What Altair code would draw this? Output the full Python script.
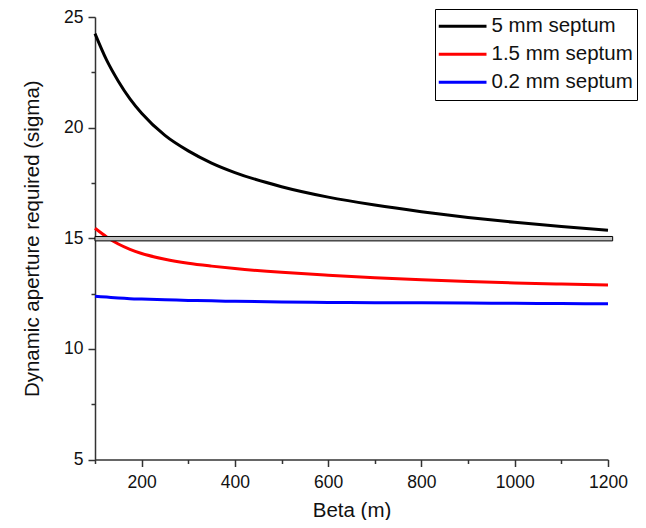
import altair as alt
import pandas as pd

# ---- data ----
beta = [100, 125, 150, 175, 200, 250, 300, 350, 400, 500, 600, 700, 800, 900, 1000, 1100, 1200]
da_5mm = [24.25, 23.05, 22.1, 21.3, 20.65, 19.65, 18.95, 18.4, 17.97, 17.33, 16.86, 16.5, 16.2, 15.94, 15.72, 15.53, 15.36]
da_1p5mm = [15.45, 15.06, 14.74, 14.5, 14.31, 14.05, 13.87, 13.74, 13.63, 13.46, 13.33, 13.22, 13.12, 13.04, 12.98, 12.93, 12.89]
da_0p2mm = [12.38, 12.34, 12.3, 12.27, 12.25, 12.22, 12.19, 12.17, 12.15, 12.12, 12.1, 12.09, 12.08, 12.07, 12.06, 12.05, 12.04]
series_names = ["5 mm septum", "1.5 mm septum", "0.2 mm septum"]
series_colors = ["#000000", "#ff0000", "#0000ff"]

band_x = [100, 1210]
band_y = [14.88, 15.08]

x_ticks = [100, 200, 300, 400, 500, 600, 700, 800, 900, 1000, 1100, 1200]
y_ticks = [5, 7.5, 10, 12.5, 15, 17.5, 20, 22.5, 25]

rows = []
for name, vals in zip(series_names, [da_5mm, da_1p5mm, da_0p2mm]):
    for b, v in zip(beta, vals):
        rows.append({"beta": b, "da": v, "series": name})
df = pd.DataFrame(rows)
band_df = pd.DataFrame({"x1": [band_x[0]], "x2": [band_x[1]], "y1": [band_y[0]], "y2": [band_y[1]]})

FONT = "Liberation Sans"

x_scale = alt.Scale(domain=[100, 1200], nice=False, zero=False)
y_scale = alt.Scale(domain=[5, 25], nice=False, zero=False)

x_axis = alt.Axis(
    values=x_ticks,
    labelExpr="datum.value % 200 == 0 ? datum.label : ''",
    format="d",
    tickSize={"condition": {"test": "datum.value % 200 == 0", "value": 7}, "value": 4},
    grid=False,
    domainColor="#333333", domainWidth=1.5,
    tickColor="#333333", tickWidth=1.5,
    labelFont=FONT, labelFontSize=17.5, labelColor="#111111", labelPadding=7,
    titleFont=FONT, titleFontSize=20.5, titleFontWeight="normal", titleColor="#111111",
    titlePadding=9,
    labelFlush=False,
)
y_axis = alt.Axis(
    values=y_ticks,
    labelExpr="datum.value % 5 == 0 ? datum.label : ''",
    tickSize={"condition": {"test": "datum.value % 5 == 0", "value": 7}, "value": 4},
    grid=False,
    domainColor="#333333", domainWidth=1.5,
    tickColor="#333333", tickWidth=1.5,
    labelFont=FONT, labelFontSize=17.5, labelColor="#111111", labelPadding=5,
    titleFont=FONT, titleFontSize=20.5, titleFontWeight="normal", titleColor="#111111",
    titlePadding=21,
    labelFlush=False,
)

lines = alt.Chart(df).mark_line(strokeWidth=3, interpolate="monotone").encode(
    x=alt.X("beta:Q", scale=x_scale, axis=x_axis, title="Beta (m)"),
    y=alt.Y("da:Q", scale=y_scale, axis=y_axis, title="Dynamic aperture required (sigma)"),
    color=alt.Color(
        "series:N",
        scale=alt.Scale(domain=series_names, range=series_colors),
        sort=series_names,
        legend=alt.Legend(
            title=None,
            orient="none",
            legendX=340,
            legendY=-8,
            symbolType="M-1.15,0H3.65",
            symbolSize=400,
            symbolStrokeWidth=3,
            labelFont=FONT,
            labelFontSize=20.5,
            labelColor="#111111",
            labelOffset=30,
            clipHeight=27.5,
            rowPadding=0,
            padding=3.5,
            strokeColor="#000000",
            fillColor="#ffffff",
        ),
    ),
)

band = alt.Chart(band_df).mark_rect(fill="#c0c0c0", stroke="#000000", strokeWidth=1).encode(
    x=alt.X("x1:Q", scale=x_scale),
    x2="x2:Q",
    y=alt.Y("y1:Q", scale=y_scale),
    y2="y2:Q",
)

chart = alt.layer(lines, band).properties(
    width=513,
    height=442.5,
    autosize=alt.AutoSizeParams(type="none"),
    padding={"left": 87, "top": 9, "right": 30, "bottom": 60},
).configure_view(stroke=None)

chart.save("out.html", embed_options={"renderer": "svg", "actions": False})
